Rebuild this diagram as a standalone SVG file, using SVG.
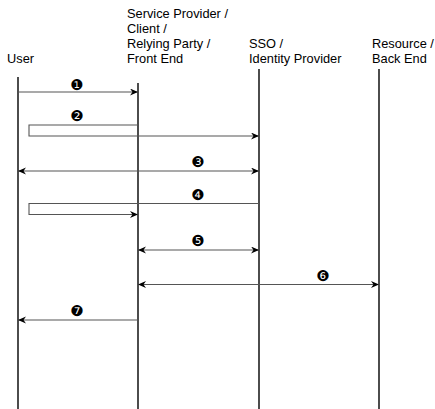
<svg xmlns="http://www.w3.org/2000/svg" width="435" height="409" viewBox="0 0 435 409">
  <style>
    .lbl { font-family: "Liberation Sans", Arial, sans-serif; font-size: 12.8px; fill: #000; }
    .life { stroke: #000; stroke-width: 1.4; fill: none; }
    .msg { stroke: #555; stroke-width: 1.1; fill: none; }
    .num { font-family: "DejaVu Sans", sans-serif; font-size: 15px; fill: #000; text-anchor: middle; }
  </style>
  <defs>
    <marker id="head" markerUnits="userSpaceOnUse" markerWidth="10" markerHeight="8" refX="8" refY="3.5" orient="auto-start-reverse">
      <path d="M0,0 L8,3.5 L0,7 L2.5,3.5 z" fill="#000"/>
    </marker>
  </defs>
  <rect width="435" height="409" fill="#fff"/>

  <g id="user">
    <text class="lbl" x="7" y="63">User</text>
    <line class="life" x1="18" y1="77" x2="18" y2="409"/>
  </g>
  <g id="service-provider">
    <text class="lbl" x="127" y="18">Service Provider /</text>
    <text class="lbl" x="127" y="33">Client /</text>
    <text class="lbl" x="127" y="48">Relying Party /</text>
    <text class="lbl" x="127" y="63">Front End</text>
    <line class="life" x1="138" y1="83" x2="138" y2="409"/>
  </g>
  <g id="identity-provider">
    <text class="lbl" x="249" y="48">SSO /</text>
    <text class="lbl" x="249" y="63">Identity Provider</text>
    <line class="life" x1="259" y1="69" x2="259" y2="409"/>
  </g>
  <g id="resource">
    <text class="lbl" x="372" y="48">Resource /</text>
    <text class="lbl" x="372" y="63">Back End</text>
    <line class="life" x1="379" y1="69" x2="379" y2="409"/>
  </g>

  <g id="connectors">
    <line class="msg" x1="18" y1="92" x2="138" y2="92" marker-end="url(#head)"/>
    <path class="msg" d="M138,125 H29 V136 H259" marker-end="url(#head)"/>
    <line class="msg" x1="18" y1="171" x2="259" y2="171" marker-start="url(#head)" marker-end="url(#head)"/>
    <path class="msg" d="M259,203.5 H29 V214.5 H138" marker-end="url(#head)"/>
    <line class="msg" x1="138" y1="250" x2="259" y2="250" marker-start="url(#head)" marker-end="url(#head)"/>
    <line class="msg" x1="138" y1="284.5" x2="379" y2="284.5" marker-start="url(#head)" marker-end="url(#head)"/>
    <line class="msg" x1="138" y1="320" x2="18" y2="320" marker-end="url(#head)"/>
  </g>

  <g id="step-numbers">
    <text class="num" x="77" y="90.2">❶</text>
    <text class="num" x="77" y="120.7">❷</text>
    <text class="num" x="198" y="167.2">❸</text>
    <text class="num" x="198" y="199.7">❹</text>
    <text class="num" x="198" y="245.7">❺</text>
    <text class="num" x="323" y="280.7">❻</text>
    <text class="num" x="77" y="315.7">❼</text>
  </g>
</svg>
